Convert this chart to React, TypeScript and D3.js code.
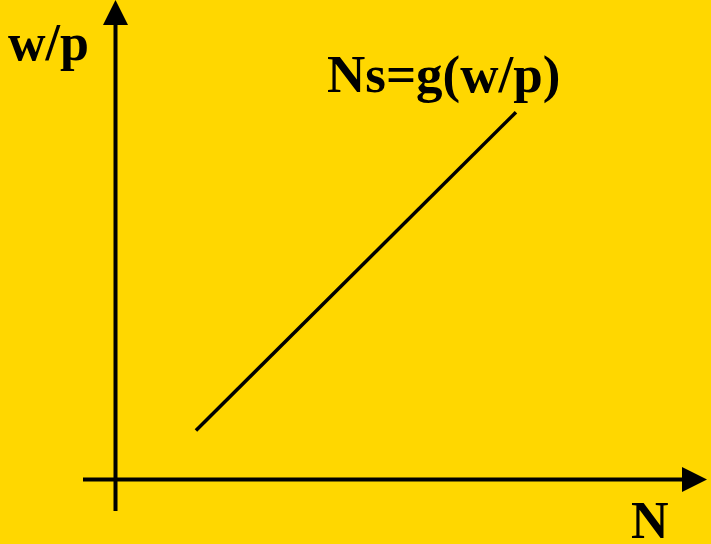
import React from "react";
import * as d3 from "d3";

const W = 711;
const H = 544;

// Supply curve Ns = g(w/p): points in data units (N, w/p)
const supplyN = [13.6, 67.7];
const supplyWP = [10.2, 76.6];

const yAxisLabel = "w/p";
const xAxisLabel = "N";
const curveLabel = "Ns=g(w/p)";

export default function App() {
  const x = d3.scaleLinear().domain([0, 100]).range([115.5, 707]);
  const y = d3.scaleLinear().domain([0, 100]).range([479.5, 0]);

  const pts: [number, number][] = supplyN.map((n, i) => [n, supplyWP[i]]);
  const line = d3
    .line<[number, number]>()
    .x((d) => x(d[0]))
    .y((d) => y(d[1]));

  const ox = x(0);
  const oy = y(0);
  const font = "'Liberation Serif', 'Times New Roman', serif";

  return (
    <svg
      width={W}
      height={H}
      style={{ position: "absolute", left: 0, top: 0, display: "block" }}
    >
      <rect x={0} y={0} width={W} height={H} fill="#FFD700" />
      {/* vertical axis */}
      <line x1={ox} y1={511} x2={ox} y2={24} stroke="#000" strokeWidth={4} />
      <path
        d={`M${ox},0 L${ox + 12.5},25 L${ox - 12.5},25 Z`}
        fill="#000"
      />
      {/* horizontal axis */}
      <line x1={83} y1={oy} x2={684} y2={oy} stroke="#000" strokeWidth={4} />
      <path
        d={`M${x(100)},${oy} L${x(100) - 25},${oy - 12.5} L${x(100) - 25},${oy + 12.5} Z`}
        fill="#000"
      />
      {/* supply line */}
      <path d={line(pts) || ""} fill="none" stroke="#000" strokeWidth={3.5} />
      {/* labels */}
      <text x={8} y={60} fontFamily={font} fontWeight="bold" fontSize={52} fill="#000">
        {yAxisLabel}
      </text>
      <text x={327} y={92} fontFamily={font} fontWeight="bold" fontSize={53} fill="#000">
        {curveLabel}
      </text>
      <text x={631} y={538} fontFamily={font} fontWeight="bold" fontSize={52} fill="#000">
        {xAxisLabel}
      </text>
    </svg>
  );
}
